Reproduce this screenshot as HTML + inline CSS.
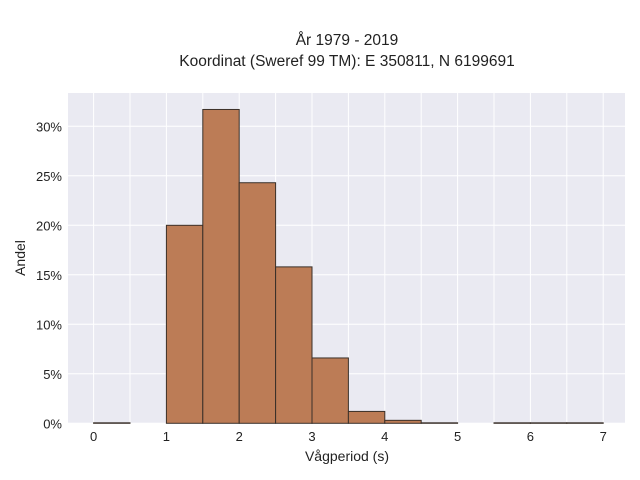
<!DOCTYPE html>
<html><head><meta charset="utf-8"><style>
body{margin:0;background:#fff;}
svg{display:block;font-family:"Liberation Sans",sans-serif;}
</style></head><body>
<svg id="chart" width="640" height="480">
<text x="347" y="45" text-anchor="middle" font-size="15.5" fill="#222">År 1979 - 2019</text>
<text x="347" y="66" text-anchor="middle" font-size="15.5" fill="#222">Koordinat (Sweref 99 TM): E 350811, N 6199691</text>
<rect x="68" y="93" width="557" height="330" fill="#eaeaf2"/>
<g id="grid"></g>
<g id="bars"></g>
<g id="ticks"></g>
<text x="347" y="461" text-anchor="middle" font-size="14" fill="#222">Vågperiod (s)</text>
<text x="25" y="258" text-anchor="middle" font-size="14" fill="#222" transform="rotate(-90 25 258)">Andel</text>
</svg>
<script>
const binStarts=[0,1,1.5,2,2.5,3,3.5,4,4.5,5.5,6,6.5];
const shares=[0.05,20,31.7,24.3,15.8,6.6,1.2,0.3,0.05,0.05,0.05,0.05];
const binWidth=0.5;
const xTicks=[0,1,2,3,4,5,6,7];
const yTicks=[0,5,10,15,20,25,30];
const NS="http://www.w3.org/2000/svg";
const X=v=>93.6+v*72.8;
const Y=v=>423.3-v*9.9;
function mk(tag,attrs,parent){const e=document.createElementNS(NS,tag);for(const k in attrs)e.setAttribute(k,attrs[k]);parent.appendChild(e);return e;}
const grid=document.getElementById('grid'),bars=document.getElementById('bars'),ticks=document.getElementById('ticks');
for(let v=0;v<=7;v+=0.5){const l=mk('line',{x1:X(v),x2:X(v),y1:93,y2:423,stroke:'#fff','stroke-width':1},grid);

}
yTicks.forEach(v=>{const l=mk('line',{x1:68,x2:625,y1:Y(v),y2:Y(v),stroke:'#fff','stroke-width':1},grid);


const t=mk('text',{x:62,y:Y(v)+5,'text-anchor':'end','font-size':13,fill:'#222'},ticks);t.textContent=v+'%';

});
xTicks.forEach(v=>{const t=mk('text',{x:X(v),y:441,'text-anchor':'middle','font-size':13,fill:'#222'},ticks);t.textContent=v;

});
binStarts.forEach((s,i)=>{const h=shares[i];const r=mk('rect',{x:X(s),y:Y(h),width:X(s+binWidth)-X(s),height:Y(0)-Y(h),fill:'#bc7c56',stroke:'#3a3029','stroke-width':1},bars);

});
</script>
</body></html>
